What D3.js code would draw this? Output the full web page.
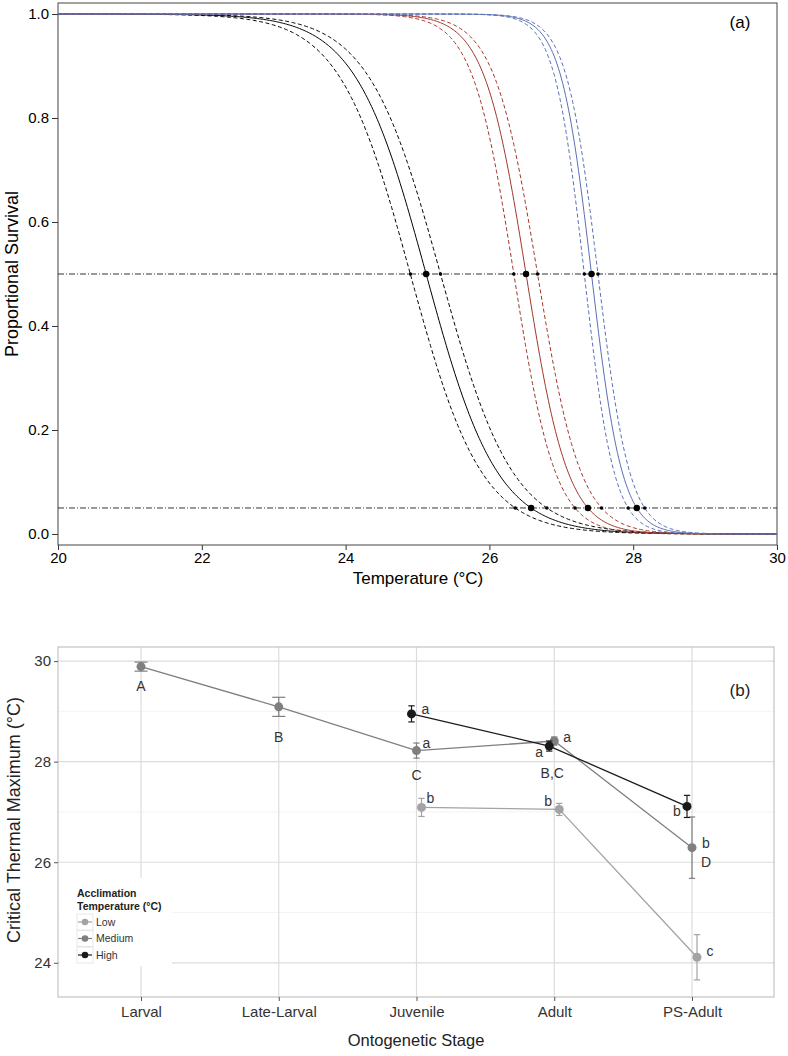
<!DOCTYPE html>
<html><head><meta charset="utf-8">
<script src="https://cdn.jsdelivr.net/npm/d3@7"></script>
<style>body{margin:0;background:#fff} text{font-family:"Liberation Sans",Arial,sans-serif}</style>
</head><body><svg id="c" width="788" height="1056"></svg>
<script>
// ---------- Panel (a) data ----------
const tempTicks = [20, 22, 24, 26, 28, 30];
const survTicks = [0, 0.2, 0.4, 0.6, 0.8, 1.0];
const curveNames = ["black", "red", "blue"];
const lt50 = [25.12, 26.51, 27.42];
const lt50Lower = [24.90, 26.34, 27.32];
const lt50Upper = [25.32, 26.67, 27.51];
const lt05 = [26.58, 27.37, 28.05];
const lt05Lower = [26.36, 27.19, 27.93];
const lt05Upper = [26.80, 27.56, 28.16];
const refLevels = [0.5, 0.05];

// ---------- Panel (b) data ----------
const stages = ["Larval", "Late-Larval", "Juvenile", "Adult", "PS-Adult"];
const groups = ["Low", "Medium", "High"];
const ctLow = [null, null, 27.09, 27.05, 24.11];
const seLow = [null, null, 0.18, 0.12, 0.45];
const ctMed = [29.89, 29.09, 28.22, 28.41, 26.29];
const seMed = [0.09, 0.19, 0.15, 0.08, 0.61];
const ctHigh = [null, null, 28.95, 28.31, 27.11];
const seHigh = [null, null, 0.16, 0.10, 0.22];
const letterLow = [null, null, "b", "b", "c"];
const letterMed = [null, null, "a", "a", "b"];
const letterHigh = [null, null, "a", "a", "b"];
const stageLetters = ["A", "B", "C", "B,C", "D"];
const ctTicks = [24, 26, 28, 30];
const ctMinor = [25, 27, 29];

const svg = d3.select("#c");

// ================= Panel (a) =================
const xA = d3.scaleLinear().domain([20, 30]).range([58, 777]);
const yA = d3.scaleLinear().domain([-0.0212, 1.0212]).range([545, 3]);
const gA = svg.append("g");

const colorsA = {black: "#000000", red: "#a3362b", blue: "#5a70b6"};

// axes
const axL = gA.append("g").attr("transform", "translate(58,0)")
  .call(d3.axisLeft(yA).tickValues(survTicks).tickFormat(d3.format(".1f")).tickSize(6).tickPadding(3));
axL.select(".domain").remove();
axL.selectAll("text").attr("font-size", 15).attr("fill", "#000");
axL.selectAll("line").attr("stroke", "#333");
const axB = gA.append("g").attr("transform", "translate(0,545)")
  .call(d3.axisBottom(xA).tickValues(tempTicks).tickFormat(d3.format("d")).tickSize(5).tickPadding(2));
axB.select(".domain").remove();
axB.selectAll("text").attr("font-size", 15).attr("fill", "#000");
axB.selectAll("line").attr("stroke", "#333");

gA.append("rect").attr("x", 58).attr("y", 3).attr("width", 719).attr("height", 542)
  .attr("fill", "none").attr("stroke", "#444").attr("stroke-width", 1);

// reference lines
gA.selectAll(".ref").data(refLevels).enter().append("line")
  .attr("x1", xA(20)).attr("x2", xA(30)).attr("y1", d => yA(d)).attr("y2", d => yA(d))
  .attr("stroke", "#000").attr("stroke-width", 0.8).attr("stroke-dasharray", "6,2,1,2");

// logistic dose-response curves defined by read-off LT50 / LT05 values
const temps = d3.range(20, 30.0001, 0.02);
function surv(T, m, t05) { const s = (t05 - m) / Math.log(19); return 1 / (1 + Math.exp((T - m) / s)); }
const line = d3.line().x(d => xA(d[0])).y(d => yA(d[1]));
curveNames.forEach((c, i) => {
  const sets = [[lt50Lower[i], lt05Lower[i], true], [lt50Upper[i], lt05Upper[i], true], [lt50[i], lt05[i], false]];
  sets.forEach(([m, t05, dashed]) => {
    gA.append("path").datum(temps.map(T => [T, surv(T, m, t05)]))
      .attr("d", line).attr("fill", "none").attr("stroke", colorsA[c])
      .attr("stroke-width", 1).attr("stroke-dasharray", dashed ? "4,2.5" : null);
  });
  [[lt50Lower[i], 0.5, 1.8], [lt50Upper[i], 0.5, 1.8], [lt50[i], 0.5, 3.2],
   [lt05Lower[i], 0.05, 1.8], [lt05Upper[i], 0.05, 1.8], [lt05[i], 0.05, 3.2]].forEach(([t, p, r]) => {
    gA.append("circle").attr("cx", xA(t)).attr("cy", yA(p)).attr("r", r).attr("fill", "#000");
  });
});

gA.append("text").attr("x", 740).attr("y", 28).attr("text-anchor", "middle").attr("font-size", 17).text("(a)");
gA.append("text").attr("x", 418).attr("y", 584).attr("text-anchor", "middle").attr("font-size", 17).text("Temperature (°C)");
gA.append("text").attr("transform", "translate(18,274) rotate(-90)").attr("text-anchor", "middle")
  .attr("font-size", 18).text("Proportional Survival");

// ================= Panel (b) =================
const xB = d3.scalePoint().domain(stages).range([141, 692]);
const yB = d3.scaleLinear().domain([23.32, 30.28]).range([997, 647]);
const gB = svg.append("g");
const L = 58, R = 774, T = 647, B = 997;

// grid
gB.selectAll(".gmin").data(ctMinor).enter().append("line")
  .attr("x1", L).attr("x2", R).attr("y1", d => yB(d)).attr("y2", d => yB(d))
  .attr("stroke", "#efefef").attr("stroke-width", 0.7);
gB.selectAll(".gmaj").data(ctTicks).enter().append("line")
  .attr("x1", L).attr("x2", R).attr("y1", d => yB(d)).attr("y2", d => yB(d))
  .attr("stroke", "#dcdcdc").attr("stroke-width", 1.2);
gB.selectAll(".gv").data(stages).enter().append("line")
  .attr("x1", d => xB(d)).attr("x2", d => xB(d)).attr("y1", T).attr("y2", B)
  .attr("stroke", "#dcdcdc").attr("stroke-width", 1.2);
gB.append("rect").attr("x", L).attr("y", T).attr("width", R - L).attr("height", B - T)
  .attr("fill", "none").attr("stroke", "#c4c4c4").attr("stroke-width", 1.2);

// axes
const byL = gB.append("g").attr("transform", `translate(${L},0)`)
  .call(d3.axisLeft(yB).tickValues(ctTicks).tickFormat(d3.format("d")).tickSize(4).tickPadding(3));
byL.select(".domain").remove();
byL.selectAll("text").attr("font-size", 15).attr("fill", "#333");
byL.selectAll("line").attr("stroke", "#555");
const byB = gB.append("g").attr("transform", `translate(0,${B})`)
  .call(d3.axisBottom(xB).tickSize(4).tickPadding(5));
byB.select(".domain").remove();
byB.selectAll("text").attr("font-size", 15).attr("fill", "#333");
byB.selectAll("line").attr("stroke", "#555");

gB.append("text").attr("x", 416).attr("y", 1046).attr("text-anchor", "middle").attr("font-size", 16.5).attr("fill", "#222").text("Ontogenetic Stage");
gB.append("text").attr("transform", "translate(20,820) rotate(-90)").attr("text-anchor", "middle")
  .attr("font-size", 18).attr("fill", "#222").text("Critical Thermal Maximum (°C)");
gB.append("text").attr("x", 740).attr("y", 696).attr("text-anchor", "middle").attr("font-size", 17).attr("fill", "#222").text("(b)");

// series
const groupColor = {Low: "#a3a3a3", Medium: "#7f7f7f", High: "#1a1a1a"};
const dodge = {Low: 5, Medium: 0, High: -5};
const seriesVals = {Low: ctLow, Medium: ctMed, High: ctHigh};
const seriesSE = {Low: seLow, Medium: seMed, High: seHigh};
const seriesLetters = {Low: letterLow, Medium: letterMed, High: letterHigh};
const nGroups = stages.map((s, i) => groups.filter(g => seriesVals[g][i] != null).length);

// legend background (covers grid)
gB.append("rect").attr("x", 60).attr("y", 878).attr("width", 112).attr("height", 88).attr("fill", "#fff");

const pts = g => stages.map((s, i) => ({s, i, g, v: seriesVals[g][i], se: seriesSE[g][i], lab: seriesLetters[g][i]})).filter(d => d.v != null);
const lineB = d3.line().x(d => xB(d.s) + dodge[d.g]).y(d => yB(d.v));
groups.forEach(g => {
  gB.append("path").datum(pts(g)).attr("d", lineB).attr("fill", "none").attr("stroke", groupColor[g]).attr("stroke-width", 1.3);
});
groups.forEach(g => {
  pts(g).forEach(p => {
    const cx = xB(p.s) + dodge[g];
    const cw = 13 / nGroups[p.i] / 2 + (nGroups[p.i] > 1 ? 1 : 0);
    const y1 = yB(p.v + p.se), y2 = yB(p.v - p.se);
    const eb = gB.append("g").attr("stroke", groupColor[g]).attr("stroke-width", 1.2);
    eb.append("line").attr("x1", cx).attr("x2", cx).attr("y1", y1).attr("y2", y2);
    eb.append("line").attr("x1", cx - cw).attr("x2", cx + cw).attr("y1", y1).attr("y2", y1);
    eb.append("line").attr("x1", cx - cw).attr("x2", cx + cw).attr("y1", y2).attr("y2", y2);
    gB.append("circle").attr("cx", cx).attr("cy", yB(p.v)).attr("r", 4.5).attr("fill", groupColor[g]);
  });
});

// letter annotations (offsets in px from the point)
const letterOffsets = {
  Low: [null, null, [9, -9], [-11, -8], [13, -6]],
  Medium: [null, null, [10, -7], [13, -4], [14, -5]],
  High: [null, null, [14, -5], [-10, 6], [-10, 5]]
};
groups.forEach(g => {
  pts(g).forEach(p => {
    if (!p.lab) return;
    const o = letterOffsets[g][p.i];
    gB.append("text").attr("x", xB(p.s) + dodge[g] + o[0]).attr("y", yB(p.v) + o[1]).attr("dy", "0.35em")
      .attr("text-anchor", "middle").attr("font-size", 14).attr("fill", "#333").text(p.lab);
  });
});
const stageOffsets = [[0, 19], [0, 30], [0, 25], [-2, 32], [14, 14]];
stageLetters.forEach((lab, i) => {
  const o = stageOffsets[i];
  gB.append("text").attr("x", xB(stages[i]) + o[0]).attr("y", yB(ctMed[i]) + o[1]).attr("dy", "0.35em")
    .attr("text-anchor", "middle").attr("font-size", 14).attr("fill", "#333").text(lab);
});

// legend
const lg = gB.append("g");
lg.append("text").attr("x", 77).attr("y", 897).attr("font-size", 10.5).attr("font-weight", "bold").attr("fill", "#222").text("Acclimation");
lg.append("text").attr("x", 77).attr("y", 910).attr("font-size", 10.5).attr("font-weight", "bold").attr("fill", "#222").text("Temperature (°C)");
groups.forEach((g, k) => {
  const yy = 914 + k * 16.5;
  lg.append("rect").attr("x", 77).attr("y", yy).attr("width", 16).attr("height", 16)
    .attr("fill", "#fff").attr("stroke", "#e0e0e0").attr("stroke-width", 0.8);
  lg.append("line").attr("x1", 78).attr("x2", 92).attr("y1", yy + 8).attr("y2", yy + 8).attr("stroke", groupColor[g]).attr("stroke-width", 1.2);
  lg.append("circle").attr("cx", 85).attr("cy", yy + 8).attr("r", 3.3).attr("fill", groupColor[g]);
  lg.append("text").attr("x", 96).attr("y", yy + 8).attr("dy", "0.35em").attr("font-size", 10.5).attr("fill", "#333").text(g);
});
</script></body></html>
